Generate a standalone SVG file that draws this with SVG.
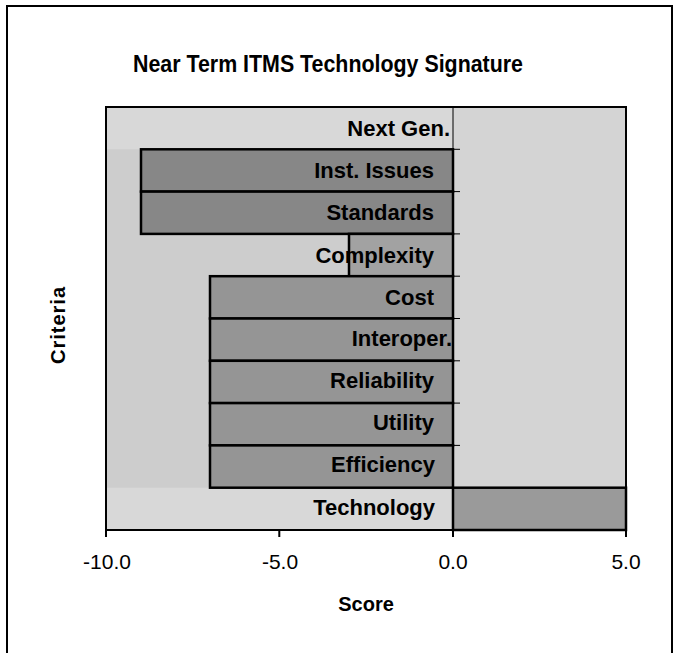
<svg xmlns="http://www.w3.org/2000/svg" width="679" height="653" viewBox="0 0 679 653">
  <style>
    .title { font-family: "Liberation Sans", Arial, sans-serif; font-weight: bold; font-size: 23px; fill: #000; }
    .cat { font-family: "Liberation Sans", Arial, sans-serif; font-weight: bold; font-size: 22px; fill: #000; text-anchor: end; }
    .tick { font-family: "Liberation Sans", Arial, sans-serif; font-size: 21px; fill: #000; text-anchor: middle; }
    .axt { font-family: "Liberation Sans", Arial, sans-serif; font-weight: bold; font-size: 20px; fill: #000; text-anchor: middle; }
    .bar { stroke: #000; stroke-width: 2.5; }
    .dark { fill: #878787; }
    .mid { fill: #959595; }
    .light { fill: #a2a2a2; }
    .pos { fill: #9a9a9a; }
    .ax { stroke: #000; stroke-width: 2; fill: none; }
    .thin { stroke: #000; stroke-width: 1; fill: none; }
  </style>

  <!-- page background and frame -->
  <rect x="0" y="0" width="679" height="653" fill="#ffffff"/>
  <rect x="7" y="6" width="665" height="660" fill="none" stroke="#000" stroke-width="2"/>

  <text class="title" x="133" y="72" textLength="390" lengthAdjust="spacingAndGlyphs">Near Term ITMS Technology Signature</text>

  <!-- plot area: negative half and positive half -->
  <rect x="106" y="107" width="347" height="423" fill="#cdcdcd"/>
  <rect x="453" y="107" width="173" height="423" fill="#d4d4d4"/>
  <!-- lighter strips behind the zero-score rows -->
  <rect x="106" y="107" width="347" height="42.3" fill="#d8d8d8"/>
  <rect x="106" y="487.7" width="347" height="42.3" fill="#d8d8d8"/>

  <!-- bars -->
  <g id="bar-inst-issues"><rect class="bar dark" x="141" y="149.3" width="312" height="42.3"/></g>
  <g id="bar-standards"><rect class="bar dark" x="141" y="191.6" width="312" height="42.3"/></g>
  <g id="bar-complexity"><rect class="bar light" x="349" y="233.9" width="104" height="42.3"/></g>
  <g id="bar-cost"><rect class="bar mid" x="210" y="276.2" width="243" height="42.3"/></g>
  <g id="bar-interoper"><rect class="bar mid" x="210" y="318.5" width="243" height="42.3"/></g>
  <g id="bar-reliability"><rect class="bar mid" x="210" y="360.8" width="243" height="42.3"/></g>
  <g id="bar-utility"><rect class="bar mid" x="210" y="403.1" width="243" height="42.3"/></g>
  <g id="bar-efficiency"><rect class="bar mid" x="210" y="445.4" width="243" height="42.3"/></g>
  <g id="bar-technology"><rect class="bar pos" x="453" y="487.7" width="173" height="42.3"/></g>

  <!-- axes, zero line and tick marks -->
  <g id="axes">
    <line class="thin" x1="453" y1="107" x2="453" y2="530"/>
    <rect class="ax" x="106" y="107" width="520" height="423"/>
    <path class="thin" d="M453 149.3h7M453 191.6h7M453 233.9h7M453 276.2h7M453 318.5h7M453 360.8h7M453 403.1h7M453 445.4h7M453 487.7h7"/>
    <path class="ax" d="M106 530v7M279.3 530v7M453 530v7M626 530v7"/>
  </g>

  <!-- category labels -->
  <g id="labels">
    <text class="cat" x="450" y="136">Next Gen.</text>
    <text class="cat" x="434" y="178">Inst. Issues</text>
    <text class="cat" x="434" y="220">Standards</text>
    <text class="cat" x="434" y="263">Complexity</text>
    <text class="cat" x="434" y="305">Cost</text>
    <text class="cat" x="452" y="346">Interoper.</text>
    <text class="cat" x="434" y="388">Reliability</text>
    <text class="cat" x="434" y="430">Utility</text>
    <text class="cat" x="435" y="472">Efficiency</text>
    <text class="cat" x="435" y="515">Technology</text>
  </g>

  <!-- value axis labels -->
  <g id="ticks">
    <text class="tick" x="107" y="569">-10.0</text>
    <text class="tick" x="280" y="569">-5.0</text>
    <text class="tick" x="453" y="569">0.0</text>
    <text class="tick" x="626" y="569">5.0</text>
  </g>
  <text class="axt" x="366" y="611">Score</text>
  <text class="axt" transform="translate(65 325) rotate(-90)" x="0" y="0" style="letter-spacing:1px">Criteria</text>
</svg>
